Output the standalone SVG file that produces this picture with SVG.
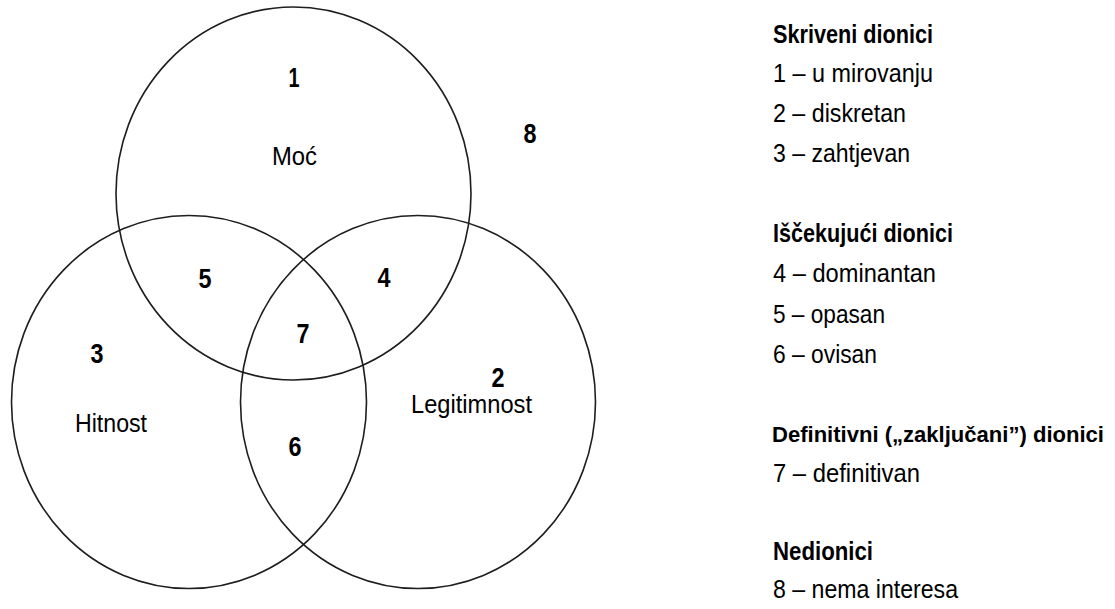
<svg xmlns="http://www.w3.org/2000/svg" width="1115" height="609" viewBox="0 0 1115 609">
<style>
.c{fill:none;stroke:#1e1e1e;stroke-width:1.6}
.n{font-family:"Liberation Sans",Arial,sans-serif;font-weight:bold;font-size:28px;fill:#000;text-anchor:middle}
.l{font-family:"Liberation Sans",Arial,sans-serif;font-size:25px;fill:#000;text-anchor:middle}
.h{font-family:"Liberation Sans",Arial,sans-serif;font-weight:bold;font-size:25px;fill:#000}
.t{font-family:"Liberation Sans",Arial,sans-serif;font-size:25px;fill:#000}
</style>
<rect width="1115" height="609" fill="#fff"/>
<g id="circle-moc">
<ellipse class="c" cx="293.5" cy="193.5" rx="177.5" ry="186.5"/>
<text class="l" x="294.5" y="165" textLength="45" lengthAdjust="spacingAndGlyphs">Moć</text>
</g>
<g id="circle-hitnost">
<ellipse class="c" cx="189" cy="402" rx="177.5" ry="186.5"/>
<text class="l" x="111" y="432" textLength="72" lengthAdjust="spacingAndGlyphs">Hitnost</text>
</g>
<g id="circle-legitimnost">
<ellipse class="c" cx="418" cy="402" rx="177.5" ry="186.5"/>
<text class="l" x="471.5" y="413" textLength="121" lengthAdjust="spacingAndGlyphs">Legitimnost</text>
</g>
<g id="region-labels">
<text class="n" x="294" y="87" textLength="11" lengthAdjust="spacingAndGlyphs">1</text>
<text class="n" x="498" y="387" textLength="13" lengthAdjust="spacingAndGlyphs">2</text>
<text class="n" x="97" y="363" textLength="13" lengthAdjust="spacingAndGlyphs">3</text>
<text class="n" x="384" y="287" textLength="13" lengthAdjust="spacingAndGlyphs">4</text>
<text class="n" x="205" y="288" textLength="13" lengthAdjust="spacingAndGlyphs">5</text>
<text class="n" x="295" y="456" textLength="13" lengthAdjust="spacingAndGlyphs">6</text>
<text class="n" x="303" y="343" textLength="13" lengthAdjust="spacingAndGlyphs">7</text>
<text class="n" x="530" y="143" textLength="13" lengthAdjust="spacingAndGlyphs">8</text>
</g>
<g id="legend">
<text class="h" x="773" y="43" textLength="160" lengthAdjust="spacingAndGlyphs">Skriveni dionici</text>
<text class="t" x="773" y="82" textLength="160" lengthAdjust="spacingAndGlyphs">1 – u mirovanju</text>
<text class="t" x="773" y="122" textLength="133" lengthAdjust="spacingAndGlyphs">2 – diskretan</text>
<text class="t" x="773" y="162" textLength="137" lengthAdjust="spacingAndGlyphs">3 – zahtjevan</text>
<text class="h" x="773" y="242" textLength="180" lengthAdjust="spacingAndGlyphs">Iščekujući dionici</text>
<text class="t" x="773" y="282" textLength="163" lengthAdjust="spacingAndGlyphs">4 – dominantan</text>
<text class="t" x="773" y="323" textLength="112" lengthAdjust="spacingAndGlyphs">5 – opasan</text>
<text class="t" x="773" y="363" textLength="104" lengthAdjust="spacingAndGlyphs">6 – ovisan</text>
<text class="h" x="772" y="442" style="font-size:22px" textLength="332" lengthAdjust="spacingAndGlyphs">Definitivni („zaključani”) dionici</text>
<text class="t" x="773" y="482" textLength="147" lengthAdjust="spacingAndGlyphs">7 – definitivan</text>
<text class="h" x="773" y="560" textLength="100" lengthAdjust="spacingAndGlyphs">Nedionici</text>
<text class="t" x="773" y="598" textLength="185" lengthAdjust="spacingAndGlyphs">8 – nema interesa</text>
</g>
</svg>
